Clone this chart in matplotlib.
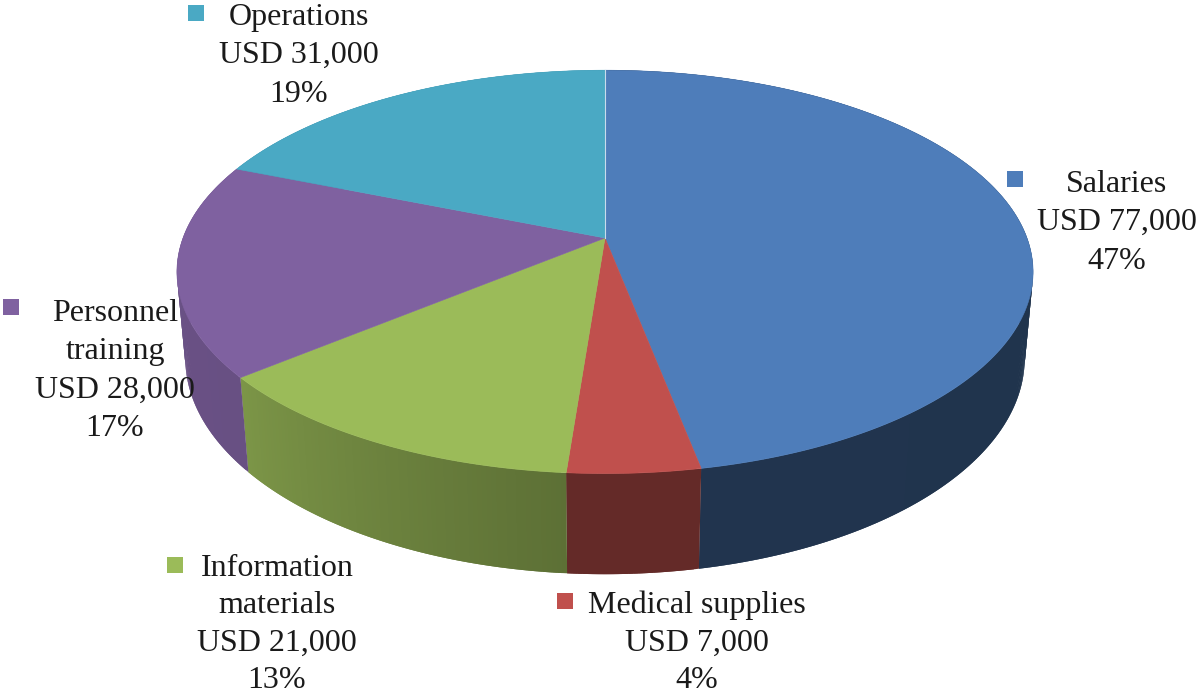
import numpy as np
import matplotlib
matplotlib.use('Agg')
import matplotlib.pyplot as plt
from matplotlib.patches import Polygon, Rectangle

# data, clockwise from 12 o'clock
names = ['Salaries', 'Medical supplies', 'Information\nmaterials', 'Personnel\ntraining', 'Operations']
values = [77000, 7000, 21000, 28000, 31000]
percents = [47, 4, 13, 17, 19]

colors = ['#4E7DBA', '#C0504D', '#9BBB59', '#7F61A0', '#4AA9C4']
# how dark the side wall gets at the start and end of each slice
wall_shade = [(0.40, 0.42), (0.52, 0.52), (0.60, 0.80), (0.82, 0.84), (0.8, 0.8)]

# baseline of the first line, centre x, line gap and the little colour key
label_pos = [(1117, 192), (697, 613), (277, 575.5), (115, 321), (299, 25)]
label_gap = [38.3, 37.5, 37.5, 38.3, 38.3]
key_pos = [(1007, 171), (557, 593), (167, 557), (3, 299), (188, 5)]


def top_disc(theta):
    x, y = np.sin(theta), np.cos(theta)
    den = 1 + 0.168 * y
    return 605 + 422 * x / den, 238 - 196 * y / den


def bottom_disc(theta):
    x, y = np.sin(theta), np.cos(theta)
    den = 1 + 0.164 * y
    return 605 + 414 * x / den, 323 - 210 * y / den


fig = plt.figure(figsize=(12, 6.95), dpi=100)
ax = fig.add_axes([0, 0, 1, 1])
ax.set_xlim(0, 1200)
ax.set_ylim(695, 0)
ax.axis('off')

edges = np.concatenate([[0], np.cumsum(values)]) / sum(values) * 2 * np.pi

# side walls first, the top disc paints over whatever is behind it
# each strip runs into the next one so no seams show
for i in range(len(values)):
    start, end = edges[i], edges[i + 1]
    steps = max(int((end - start) / 0.01), 2)
    ang = np.linspace(start, end, steps + 1)
    base = np.array(matplotlib.colors.to_rgb(colors[i]))
    for j in range(steps):
        shade = wall_shade[i][0] + (wall_shade[i][1] - wall_shade[i][0]) * j / steps
        tx, ty = top_disc(ang[j:j + 3])
        bx, by = bottom_disc(ang[j:j + 3])
        pts = np.column_stack([np.r_[tx, bx[::-1]], np.r_[ty, by[::-1]]])
        ax.add_patch(Polygon(pts, closed=True, facecolor=base * shade, edgecolor='none', zorder=1))

# top of the pie
cx, cy = 605, 238
for i in range(len(values)):
    ang = np.linspace(edges[i], edges[i + 1], 200)
    tx, ty = top_disc(ang)
    pts = np.column_stack([np.r_[cx, tx], np.r_[cy, ty]])
    ax.add_patch(Polygon(pts, closed=True, facecolor=colors[i], edgecolor=colors[i], lw=0.4, zorder=2))

# thin light seam between Operations and Salaries
tx, ty = top_disc(np.array([0.0]))
ax.plot([cx, tx[0]], [cy, ty[0]], color='#C8DCEC', lw=0.8, zorder=3)

# labels
for i in range(len(values)):
    lines = names[i].split('\n') + ['USD {:,}'.format(values[i]), '{}%'.format(percents[i])]
    x, y = label_pos[i]
    for n, line in enumerate(lines):
        ax.text(x, y + n * label_gap[i], line, ha='center', va='baseline', color='#1A1A1A',
                family='Liberation Serif', fontsize=23, zorder=5)
    kx, ky = key_pos[i]
    ax.add_patch(Rectangle((kx, ky), 16, 16, facecolor=colors[i], edgecolor='none', zorder=4))

plt.savefig('out.png', dpi=100)
